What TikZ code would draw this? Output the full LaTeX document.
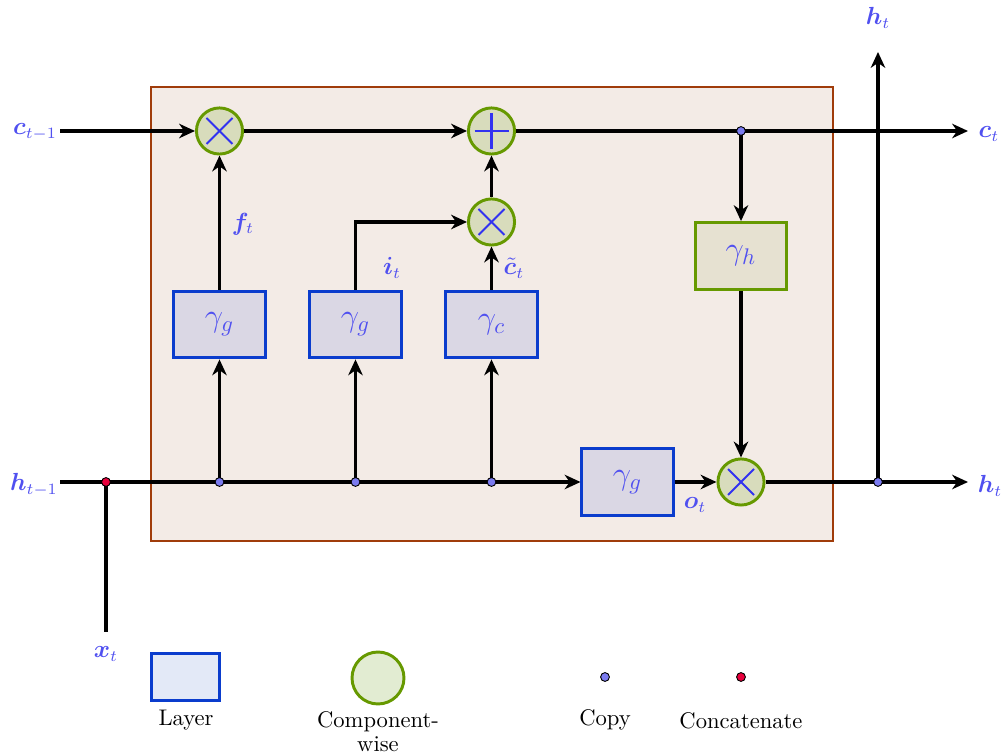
\documentclass[tikz,border=0pt]{standalone}
\usepackage{amsmath,bm}
\usetikzlibrary{arrows.meta,calc}
\definecolor{lbl}{RGB}{80,80,240}
\definecolor{gfill}{RGB}{218,215,228}
\definecolor{gdraw}{RGB}{10,60,205}
\definecolor{ofill}{RGB}{243,235,230}
\definecolor{odraw}{RGB}{160,60,10}
\definecolor{cfill}{RGB}{216,220,188}
\definecolor{cdraw}{RGB}{102,153,0}
\definecolor{hfill}{RGB}{230,225,209}
\definecolor{lfill}{RGB}{227,233,247}
\definecolor{lcfill}{RGB}{226,236,210}
\definecolor{dotblue}{RGB}{123,123,240}
\definecolor{dotred}{RGB}{232,0,60}
\definecolor{crossc}{RGB}{50,50,240}
\tikzset{
  gatebox/.style={rectangle,draw=gdraw,fill=gfill,line width=1.3pt,minimum width=40.3pt,minimum height=29.6pt,inner sep=0pt,text=lbl,font=\Large},
  hbox/.style={gatebox,draw=cdraw,fill=hfill},
  opcirc/.style={circle,draw=cdraw,fill=cfill,line width=1.3pt,minimum size=20.4pt,inner sep=0pt},
  cpdot/.style={circle,draw=black,fill=dotblue,line width=0.4pt,minimum size=3.9pt,inner sep=0pt},
  ctdot/.style={cpdot,fill=dotred},
  lab/.style={text=lbl,inner sep=0pt,font=\fontsize{10.5}{12}\selectfont},
  legtext/.style={inner sep=0pt,font=\fontsize{10}{10.8}\selectfont},
  flow/.style={line width=1.35pt,draw=black},
  arr/.style={flow,-{Stealth[length=7pt,width=6.4pt,inset=2.2pt]}},
  crossl/.style={draw=crossc,line width=0.9pt}
}
\begin{document}
\begin{tikzpicture}[x={(0.4425pt,0)},y={(0,-0.4425pt)}]
\useasboundingbox (0,0) rectangle (1007,755);
% outer box
\node[draw=odraw,fill=ofill,line width=1pt,rectangle,minimum width=301.8pt,minimum height=200.9pt,inner sep=0pt] (cell) at (492,314) {};

% gates
\node[gatebox] (fg) at (219.5,324.5) {$\gamma_g$};
\node[gatebox] (ig) at (355.5,324.5) {$\gamma_g$};
\node[gatebox] (cg) at (491.5,324.5) {$\gamma_c$};
\node[gatebox] (og) at (627.5,482) {$\gamma_g$};
\node[hbox] (hg) at (741,256) {$\gamma_h$};

% operators
\node[opcirc] (mf) at (219.5,131) {};
\node[opcirc] (pc) at (491.5,131) {};
\node[opcirc] (mi) at (491.5,222) {};
\node[opcirc] (mo) at (741,482) {};
\foreach \n in {mf,mi,mo}{
  \draw[crossl] ($(\n)+(-13,-13)$) -- ($(\n)+(13,13)$);
  \draw[crossl] ($(\n)+(-13,13)$) -- ($(\n)+(13,-13)$);
}
\draw[crossl] ($(pc)+(-17,0)$) -- ($(pc)+(17,0)$);
\draw[crossl] ($(pc)+(0,-18)$) -- ($(pc)+(0,18)$);

% coordinates
\coordinate (cin) at (60,131);
\coordinate (cout) at (968,131);
\coordinate (hin) at (60,482);
\coordinate (hout) at (968,482);
\coordinate (htop) at (878,52);
\coordinate (xin) at (106,632);
\coordinate (ibend) at (355.5,222);

% connectors
\draw[arr] (cin) -- (mf);
\draw[arr] (mf) -- (pc);
\draw[arr] (pc.east) -- (cout);
\draw[arr] (mi) -- (pc);
\draw[arr] (cg) -- (mi);
\draw[arr] (ig.north) -- (ibend) -- (mi);
\draw[arr] (fg) -- (mf);

\coordinate (dcc) at (741,131);
\draw[arr] (dcc) -- (hg);
\draw[arr] (hg) -- (mo);

\draw[arr] (hin) -- (og.west);
\draw[arr] (og) -- (mo);
\draw[arr] (mo) -- (hout);
\draw[flow] (xin) -- (106,482);

\coordinate (c1) at (219.5,482);
\coordinate (c2) at (355.5,482);
\coordinate (c3) at (491.5,482);
\coordinate (c4) at (878,482);
\draw[arr] (c1) -- (fg);
\draw[arr] (c2) -- (ig);
\draw[arr] (c3) -- (cg);
\draw[arr] (c4) -- (htop);
\node[cpdot] (dc) at (dcc) {};
\node[cpdot] (d1) at (c1) {};
\node[cpdot] (d2) at (c2) {};
\node[cpdot] (d3) at (c3) {};
\node[cpdot] (d4) at (c4) {};
\node[ctdot] (dr) at (106,482) {};

% labels
\node[lab] (lc1) at (35,132) {$\bm{c}_{t-1}$};
\node[lab] (lh1) at (34,485) {$\bm{h}_{t-1}$};
\node[lab] (lct) at (989,134) {$\bm{c}_t$};
\node[lab] (lht) at (990,486) {$\bm{h}_t$};
\node[lab] (lhtop) at (878,18) {$\bm{h}_t$};
\node[lab] (lxt) at (106,654) {$\bm{x}_t$};
\node[lab] (lft) at (243,224) {$\bm{f}_t$};
\node[lab] (lit) at (392,268) {$\bm{i}_t$};
\node[lab] (lctt) at (514,268) {$\tilde{\bm{c}}_t$};
\node[lab] (lot) at (695,505) {$\bm{o}_t$};

% legend
\node[rectangle,draw=gdraw,fill=lfill,line width=1.3pt,minimum width=30.5pt,minimum height=20.4pt,inner sep=0pt] (legl) at (185.5,677) {};
\node[circle,draw=cdraw,fill=lcfill,line width=1.3pt,minimum size=23pt,inner sep=0pt] (legc) at (378,678) {};
\node[cpdot] (legd) at (605,677) {};
\node[ctdot] (legr) at (741,677) {};
\node[legtext] (tl) at (186,720) {Layer};
\node[legtext,align=center,anchor=north] (tc) at (378,711) {Component-\\wise};
\node[legtext] (tcp) at (605,720) {Copy};
\node[legtext] (tcc) at (741,721) {Concatenate};
\end{tikzpicture}
\end{document}
